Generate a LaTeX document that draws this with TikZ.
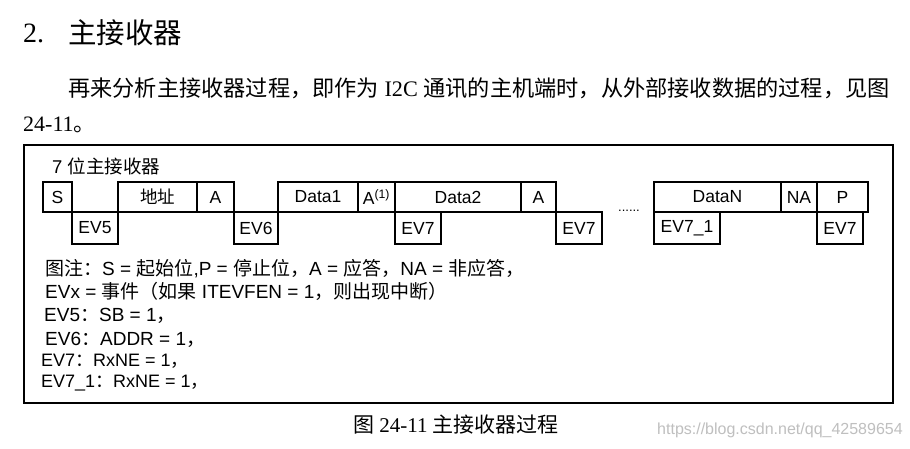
\documentclass[tikz,border=0pt]{standalone}
\usepackage{fontspec}
\setmainfont{Liberation Serif}
\setsansfont{Liberation Sans}
\newfontfamily\cjk{Noto Sans CJK SC}
\newcommand\zh[1]{{\cjk #1}}
\newcommand\setfs[1]{\fontsize{#1}{#1}\selectfont}
\tikzstyle{field}=[draw,line width=2.2pt,minimum height=30pt,inner sep=0pt,outer sep=0pt,anchor=north west,font=\sffamily\setfs{17.5}]
\tikzstyle{event}=[field,minimum height=32pt]
\tikzstyle{txt}=[inner sep=0pt,anchor=west]
\tikzstyle{legend}=[txt,font=\sffamily\setfs{19}]

\begin{document}
\begin{tikzpicture}[x=1pt,y=-1pt]
    \useasboundingbox[fill=white] (0,0) rectangle (910,448);
    % Heading and text above the figure
    \node[txt,font=\setfs{28}] (num) at (23,33) {2.};
    \node[txt,font=\setfs{28.5}] (head) at (68,33) {\zh{主接收器}};
    \node[txt,font=\setfs{22.2}] (para) at (68,88) {\zh{再来分析主接收器过程，即作为} I2C \zh{通讯的主机端时，从外部接收数据的过程，见图}};
    \node[txt,font=\setfs{22}] (para2) at (23,125) {24-11\zh{。}};
    % Frame of the figure
    \draw[line width=1.5pt] (24,145) rectangle (893,403);
    \node[txt,font=\sffamily\setfs{18.5}] (title) at (52,166) {7 \zh{位主接收器}};
    % First we draw the upper fields
    \foreach \x/\w/\name/\txt in {43/29/s/S, 118/79/addr/{\zh{地址}}, 197/37/a1/A,
        278/80/data1/Data1, 358/37/ack1/{A\textsuperscript{(1)}}, 395/126/data2/Data2,
        521/35/a2/A, 654/127/datan/DataN, 781/36/na/NA, 817/51/p/P}
        \node[field,minimum width=\w pt] (\name) at (\x,182) {\txt};
    % Then the events below them
    \foreach \x/\w/\name/\txt in {72/46/ev5/EV5, 234/44/ev6/EV6, 395/46/ev7a/EV7,
        556/46/ev7b/EV7, 654/66/ev71/EV7\_1, 817/46/ev7c/EV7}
        \node[event,minimum width=\w pt] (\name) at (\x,212) {\txt};
    \node[font=\sffamily\setfs{13}] (dots) at (629,211) {......};
    % Legend
    \node[legend] (l1) at (45,269) {\zh{图注：}S = \zh{起始位},P = \zh{停止位，}A = \zh{应答，}NA = \zh{非应答，}};
    \node[legend] (l2) at (45,291) {EVx = \zh{事件（如果} ITEVFEN = 1\zh{，则出现中断）}};
    \node[legend] (l3) at (44,316) {EV5\zh{：}SB = 1\zh{，}};
    \node[legend] (l4) at (45,340) {EV6\zh{：}ADDR = 1\zh{，}};
    \node[legend,font=\sffamily\setfs{18}] (l5) at (41,361.5) {EV7\zh{：}RxNE = 1\zh{，}};
    \node[legend,font=\sffamily\setfs{18}] (l6) at (41,383) {EV7\_1\zh{：}RxNE = 1\zh{，}};
    % Caption
    \node[txt,font=\setfs{21}] (cap) at (353,425) {\zh{图} 24-11 \zh{主接收器过程}};
    \node[txt,font=\sffamily\setfs{16},text=black!25] (mark) at (657,430) {https://blog.csdn.net/qq\_42589654};
\end{tikzpicture}
\end{document}
